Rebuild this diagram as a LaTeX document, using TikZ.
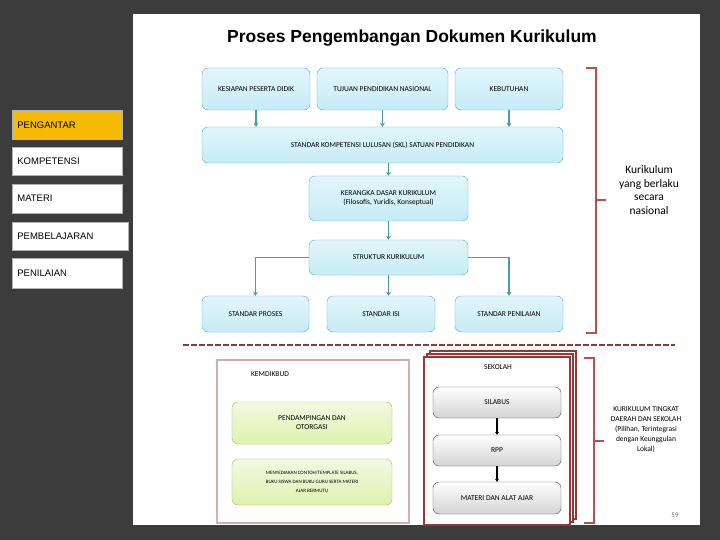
\documentclass[tikz,border=0pt]{standalone}
\usepackage{fontspec}
\setmainfont{Carlito}
\newfontfamily\arialf{Liberation Sans}
\usetikzlibrary{arrows.meta,decorations.pathreplacing}
\definecolor{slidebg}{HTML}{3C3C3C}
\definecolor{bluebox}{HTML}{C6ECF6}
\definecolor{bluedge}{HTML}{5FAAC0}
\definecolor{flowc}{HTML}{4A9BB0}
\definecolor{bracec}{HTML}{B4504E}
\definecolor{darkred}{HTML}{953735}
\definecolor{greenbox}{HTML}{DDF2B0}
\definecolor{greenedge}{HTML}{9BBB59}
\definecolor{graybox}{HTML}{D4D4D4}
\definecolor{yellowbar}{HTML}{F6BA00}
\tikzset{
  blk/.style={draw=bluedge,top color=bluebox!50,bottom color=bluebox,rounded corners=6pt,font=\fontsize{7.5}{9}\selectfont,align=center,inner sep=0pt},
  gbox/.style={draw=greenedge,top color=greenbox!40,bottom color=greenbox,rounded corners=6pt,font=\fontsize{7.5}{9}\selectfont,align=center,inner sep=0pt},
  sbox/.style={draw=black!70,top color=white,bottom color=graybox,rounded corners=6pt,font=\fontsize{7.5}{9}\selectfont,align=center,inner sep=0pt},
  bar/.style={draw=black!30,fill=white,font=\arialf\fontsize{9.5}{11}\selectfont,anchor=north west,inner sep=0pt,text depth=0pt},
  flow/.style={flowc,line width=1.6pt,-{Stealth[length=4pt,width=5pt]}},
  brc/.style={bracec,line width=2.5pt},
}
\newcommand{\boxat}[5]{\node[#1,minimum width=#4-#2,minimum height=#5-#3] at ({(#2+#4)/2},{(#3+#5)/2})}
\begin{document}
\begin{tikzpicture}[x=1pt,y=-1pt]
\fill[slidebg] (0,0) rectangle (720,540);
\fill[white] (133,14) rectangle (700,525);
\node[font=\arialf\bfseries\fontsize{17.5}{20}\selectfont] (title) at (412,38) {Proses Pengembangan Dokumen Kurikulum};

% left side bars
\node[bar,fill=yellowbar,minimum width=110pt,minimum height=29pt,text width=106pt] (pengantar) at (12,110) {\ PENGANTAR};
\node[bar,minimum width=110pt,minimum height=28pt,text width=106pt] (kompetensi) at (12,147) {\ KOMPETENSI};
\node[bar,minimum width=110pt,minimum height=29pt,text width=106pt] (materi) at (12,184) {\ MATERI};
\node[bar,minimum width=116pt,minimum height=28pt,text width=112pt] (pembelajaran) at (12,222) {\ PEMBELAJARAN};
\node[bar,minimum width=110pt,minimum height=30pt,text width=106pt] (penilaian) at (12,258) {\ PENILAIAN};

% national flow
\boxat{blk}{202}{68}{310}{110} (kesiapan) {KESIAPAN PESERTA DIDIK};
\boxat{blk}{317}{68}{448}{110} (tujuan) {TUJUAN PENDIDIKAN NASIONAL};
\boxat{blk}{455}{68}{563}{110} (kebutuhan) {KEBUTUHAN};
\boxat{blk}{202}{127}{563}{163} (skl) {STANDAR KOMPETENSI LULUSAN (SKL) SATUAN PENDIDIKAN};
\boxat{blk}{309}{176}{468}{221} (kerangka) {KERANGKA DASAR KURIKULUM\\(Filosofis, Yuridis, Konseptual)};
\boxat{blk}{309}{240}{468}{275} (struktur) {STRUKTUR KURIKULUM};
\boxat{blk}{202}{296}{309}{332} (proses) {STANDAR PROSES};
\boxat{blk}{327}{296}{435}{332} (isi) {STANDAR ISI};
\boxat{blk}{455}{296}{563}{332} (stnilai) {STANDAR PENILAIAN};

\draw[flow] (kesiapan) -- (kesiapan|-skl.north);
\draw[flow] (tujuan) -- (tujuan|-skl.north);
\draw[flow] (kebutuhan) -- (kebutuhan|-skl.north);
\draw[flow] (kerangka|-skl.south) -- (kerangka);
\draw[flow] (kerangka) -- (struktur);
\draw[flow] (struktur.west) -| (proses);
\draw[flow] (struktur) -- (isi.north-|struktur);
\draw[flow] (struktur.east) -| (stnilai);

\draw[brc] (586,68) -- (596,68) -- (596,333) -- (586,333);
\draw[brc] (596,200) -- (606,200);
\node[font=\fontsize{11.5}{13.5}\selectfont,align=center] (nasional) at (649,190) {Kurikulum\\yang berlaku\\secara\\nasional};

\draw[darkred,line width=2pt,dash pattern=on 6pt off 2pt] (183,345) -- (675,345);

% kemdikbud
\draw[draw=darkred!40,line width=2.5pt] (217,360) rectangle (409,523);
\node[font=\fontsize{7.5}{9}\selectfont] (kemdikbud) at (270,374) {KEMDIKBUD};
\boxat{gbox}{232}{402}{392}{444} (pendamping) {PENDAMPINGAN DAN\\OTORGASI};
\boxat{gbox}{232}{459}{392}{505} (contoh) {\fontsize{5}{6}\selectfont MENYEDIAKAN CONTOH/TEMPLATE SILABUS,\\\fontsize{5}{6}\selectfont BUKU SISWA DAN BUKU GURU SERTA MATERI\\\fontsize{5}{6}\selectfont AJAR BERMUTU};

% sekolah
\foreach \d in {6,3} {
  \draw[darkred,line width=2pt,fill=white] (424+\d,357-\d) rectangle (570+\d,525-\d);
}
\draw[darkred,line width=2pt,fill=white] (424,357) rectangle (570,525);
\node[font=\fontsize{7.5}{9}\selectfont] (sekolah) at (498,367) {SEKOLAH};
\boxat{sbox}{433}{387}{561}{418} (silabus) {SILABUS};
\boxat{sbox}{433}{435}{561}{466} (rpp) {RPP};
\boxat{sbox}{433}{482}{561}{514} (alatajar) {MATERI DAN ALAT AJAR};
\draw[black,line width=1.4pt,-{Stealth[length=3pt,width=4pt]}] (silabus) -- (rpp);
\draw[black,line width=1.4pt,-{Stealth[length=3pt,width=4pt]}] (rpp) -- (alatajar);

\draw[brc] (584,358) -- (594,358) -- (594,523) -- (584,523);
\draw[brc] (594,441) -- (604,441);
\node[font=\fontsize{7.5}{10}\selectfont,align=center] (daerah) at (646,430) {KURIKULUM TINGKAT\\DAERAH DAN SEKOLAH\\(Pilihan, Terintegrasi\\dengan Keunggulan\\Lokal)};
\node[font=\fontsize{7}{8}\selectfont,text=black!60] (page) at (675,515) {59};
\end{tikzpicture}
\end{document}
